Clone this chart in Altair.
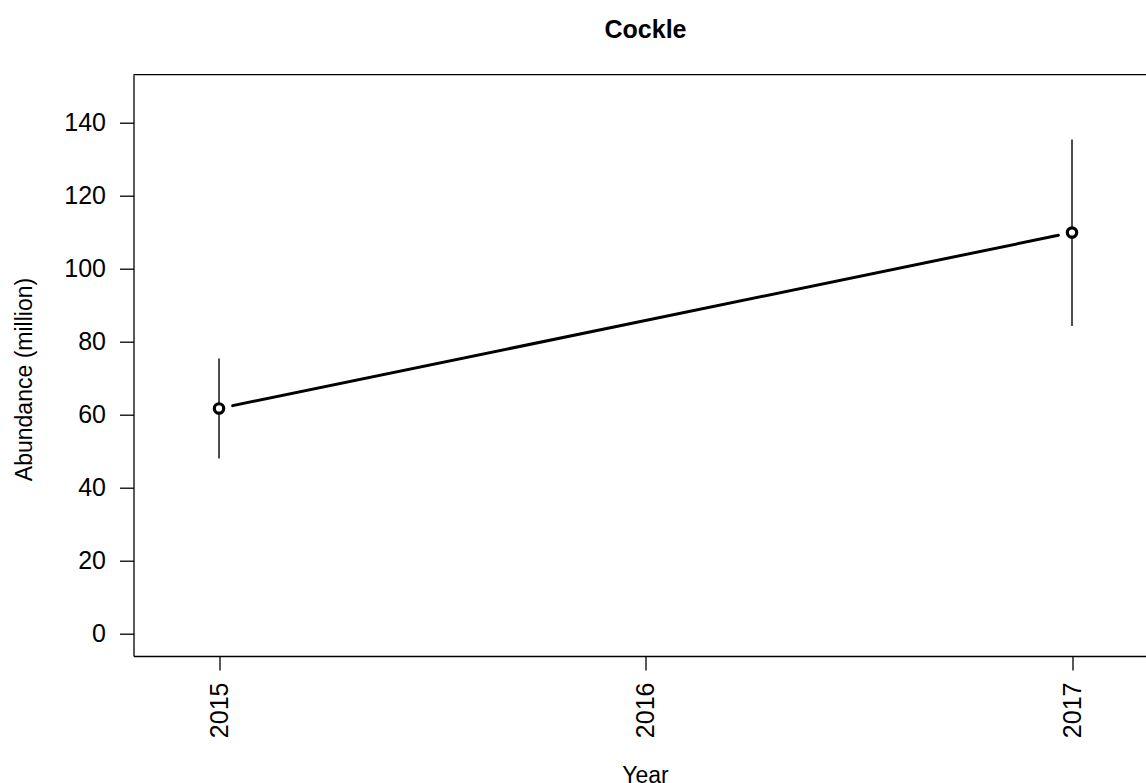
import altair as alt
import pandas as pd

# Cockle abundance estimates with confidence intervals
years = [2015, 2017]
abundance = [61.6, 109.8]
lower = [47.9, 84.2]
upper = [75.3, 135.3]

x_ticks = [2015, 2016, 2017]
y_ticks = [0, 20, 40, 60, 80, 100, 120, 140]

FONT = "Liberation Sans"
W, H = 1012.5, 581.3
X_DOMAIN = [2014.7995, 2017.1735]
Y_DOMAIN = [-6.22, 153.04]

df = pd.DataFrame({"year": years, "abundance": abundance,
                   "lower": lower, "upper": upper})

# connecting line leaves a small gap next to each point (R type="b")
gap = 0.016
seg = pd.DataFrame({
    "year": [years[0] + gap * (years[1] - years[0]),
             years[1] - gap * (years[1] - years[0])],
    "abundance": [abundance[0] + gap * (abundance[1] - abundance[0]),
                  abundance[1] - gap * (abundance[1] - abundance[0])],
})

x_scale = alt.Scale(domain=X_DOMAIN, nice=False, zero=False)
y_scale = alt.Scale(domain=Y_DOMAIN, nice=False, zero=False)

x_axis = alt.Axis(
    values=x_ticks, format="d", labelAngle=270, title="Year",
    grid=False, domainColor="black", domainWidth=1.3,
    tickColor="black", tickWidth=1.3, tickSize=14,
    labelFont=FONT, labelFontSize=25, labelColor="black", labelPadding=12,
    titleFont=FONT, titleFontSize=23, titleFontWeight="normal",
    titleColor="black", titleX=511.5, titleY=108.4, titleBaseline="top",
)
y_axis = alt.Axis(
    values=y_ticks, title="Abundance (million)",
    grid=False, domainColor="black", domainWidth=1.3,
    tickColor="black", tickWidth=1.3, tickSize=14,
    labelFont=FONT, labelFontSize=25, labelColor="black", labelPadding=14,
    titleFont=FONT, titleFontSize=23, titleFontWeight="normal",
    titleColor="black", titleX=-109.5, titleY=304.3, titleBaseline="middle",
)

base = alt.Chart(df)

errbars = base.mark_rule(color="black", strokeWidth=1.4).encode(
    x=alt.X("year:Q", scale=x_scale, axis=x_axis),
    y=alt.Y("lower:Q", scale=y_scale, axis=y_axis),
    y2="upper:Q",
)

line = alt.Chart(seg).mark_line(color="black", strokeWidth=3, strokeCap="round").encode(
    x=alt.X("year:Q", scale=x_scale),
    y=alt.Y("abundance:Q", scale=y_scale),
)

points = base.mark_circle(size=88, fill="white", fillOpacity=1,
                          stroke="black", strokeWidth=3.2, opacity=1).encode(
    x=alt.X("year:Q", scale=x_scale),
    y=alt.Y("abundance:Q", scale=y_scale),
)

# top edge of the plot frame
frame_top = alt.Chart(pd.DataFrame({"k": [0]})).mark_rule(
    color="black", strokeWidth=1.3).encode(
    x=alt.value(0), x2=alt.value(W), y=alt.value(0))

title = alt.Chart(pd.DataFrame({"t": ["Cockle"], "year": [2016]})).mark_text(
    font=FONT, fontSize=25, fontWeight="bold", color="black",
    baseline="alphabetic", align="center").encode(
    x=alt.X("year:Q", scale=x_scale), y=alt.value(-37), text="t:N")

chart = alt.layer(errbars, line, points, frame_top, title).properties(
    width=W, height=H,
    padding={"left": 133.5, "top": 74.7, "right": 0, "bottom": 127},
    autosize=alt.AutoSizeParams(type="none"),
    background="white",
).configure_view(stroke="transparent")

chart.save("out.html", embed_options={"renderer": "svg", "actions": False})
